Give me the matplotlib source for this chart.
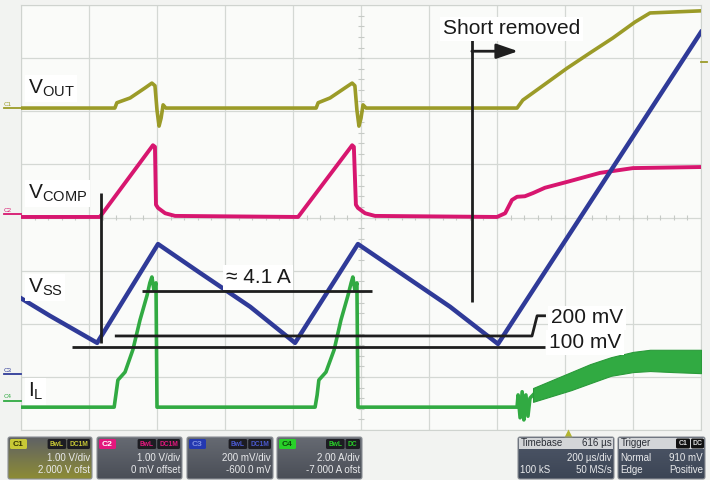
import numpy as np
import matplotlib
matplotlib.use("Agg")
import matplotlib.pyplot as plt
from matplotlib.patches import FancyBboxPatch, Rectangle

plt.rcParams['font.family'] = ['Liberation Sans', 'DejaVu Sans']
plt.rcParams['mathtext.fontset'] = 'custom'
plt.rcParams['mathtext.rm'] = 'Liberation Sans'
plt.rcParams['mathtext.it'] = 'Liberation Sans:italic'
plt.rcParams['mathtext.bf'] = 'Liberation Sans:bold'

# ---- scope traces: time in us, value in screen divisions (0 = bottom, 8 = top) ----
t_vout = [0, 276, 282, 321, 365, 385, 394, 400, 406, 412, 418, 426,
          868, 874, 909, 953, 974, 982, 988, 994, 1000, 1006, 1015,
          1459, 1476, 1526, 1606, 1674, 1741, 1806, 1850, 2000]
v_vout = [6.06, 6.06, 6.16, 6.25, 6.44, 6.53, 6.48, 6.02, 5.72, 5.87, 6.12, 6.06,
          6.06, 6.16, 6.25, 6.44, 6.53, 6.48, 6.02, 5.72, 5.87, 6.12, 6.06,
          6.06, 6.21, 6.44, 6.81, 7.10, 7.38, 7.68, 7.85, 7.89]

t_vcomp = [0, 232, 388, 394, 397, 403, 424, 453,
           815, 974, 979, 985, 991, 1012, 1041,
           1400, 1424, 1444, 1459, 1482, 1506, 1541, 1606, 1703, 1800, 2000]
v_vcomp = [4.01, 4.01, 5.36, 5.33, 4.24, 4.18, 4.08, 4.03,
           4.01, 5.36, 5.33, 4.24, 4.18, 4.08, 4.03,
           4.01, 4.08, 4.33, 4.39, 4.40, 4.46, 4.56, 4.67, 4.84, 4.93, 4.95]

t_vss = [0, 85, 224, 403, 526, 674, 806, 991, 1115, 1262, 1403, 2000]
v_vss = [2.48, 2.15, 1.64, 3.50, 2.96, 2.32, 1.64, 3.50, 2.96, 2.32, 1.62, 7.49]

t_il = [0, 274, 279, 285, 306, 329, 350, 371, 379, 385, 391, 397, 400,
        865, 871, 876, 897, 921, 941, 962, 971, 976, 982, 988, 991,
        1459, 1462, 1468, 1474, 1479, 1485, 1491, 1497, 1506]
v_il = [0.43, 0.43, 0.66, 0.94, 1.09, 1.51, 2.07, 2.54, 2.77, 2.88, 2.64, 2.77, 0.43,
        0.43, 0.66, 0.94, 1.09, 1.51, 2.07, 2.54, 2.77, 2.88, 2.64, 2.77, 0.43,
        0.43, 0.66, 0.23, 0.72, 0.19, 0.66, 0.26, 0.60, 0.66]
# inductor current ripple band after the short is removed
t_band = [1506, 1562, 1618, 1674, 1735, 1800, 1850, 1918, 2000]
il_hi = [0.79, 0.94, 1.09, 1.24, 1.37, 1.47, 1.51, 1.51, 1.51]
il_lo = [0.53, 0.64, 0.75, 0.88, 1.02, 1.09, 1.11, 1.09, 1.07]

# ---- annotation geometry (same units) ----
mark_t, mark_y = [235, 235], [4.46, 1.64]
amp_t, amp_y = [356, 1032], [2.62, 2.62]
mv200_t, mv200_y = [276, 1503, 1518, 1544], [1.77, 1.77, 2.15, 2.15]
mv100_t, mv100_y = [150, 1541], [1.56, 1.56]
short_t, short_y = [1326, 1326], [7.34, 2.41]
arrow_from, arrow_to, arrow_y = 1326, 1462, 7.13

c_out = '#9b9b28'
c_comp = '#d7166f'
c_ss = '#2f3a98'
c_il = '#31aa42'

fig = plt.figure(figsize=(7.1, 4.8), dpi=100)
fig.patch.set_facecolor('#f2f3f1')
ax = fig.add_axes([21 / 710, 50 / 480, 680 / 710, 425 / 480])
ax.set_facecolor('#fafbf9')
ax.set_xlim(0, 2000)
ax.set_ylim(0, 8)
ax.set_xticks(np.arange(0, 2001, 200))
ax.set_yticks(np.arange(0, 9, 1))
ax.tick_params(length=0, labelbottom=False, labelleft=False)
ax.grid(color='#d4d8d4', lw=0.9)
for s in ax.spines.values():
    s.set_color('#cfd3cf')

# centre-line minor ticks
ax.vlines(np.arange(0, 2000, 40), 3.95, 4.05, color='#c6cac6', lw=0.8)
ax.hlines(np.arange(0, 8, 0.2), 990, 1010, color='#c6cac6', lw=0.8)

ax.plot(t_vout, v_vout, color=c_out, lw=2.6, solid_joinstyle='round', zorder=3)
ax.plot(t_vcomp, v_vcomp, color=c_comp, lw=2.8, solid_joinstyle='round', zorder=3)
ax.plot(t_il, v_il, color=c_il, lw=2.6, solid_joinstyle='round', zorder=3)
ax.fill_between(t_band, il_lo, il_hi, color=c_il, lw=0.8, edgecolor='#2a9a3a', zorder=3)
ax.plot(t_vss, v_vss, color=c_ss, lw=3.2, solid_joinstyle='round', zorder=4)

# annotations
ln = dict(color='#1e1e1e', lw=2.0, zorder=6, solid_capstyle='butt')
ax.plot(mark_t, mark_y, **ln)
ax.plot(amp_t, amp_y, **ln)
ax.plot(mv200_t, mv200_y, **ln)
ax.plot(mv100_t, mv100_y, **ln)
ax.plot(short_t, short_y, **ln)
ax.annotate('', xy=(arrow_to, arrow_y), xytext=(arrow_from, arrow_y),
            arrowprops=dict(arrowstyle='-|>,head_length=1.3,head_width=0.45',
                            color='#1e1e1e', lw=2.0, shrinkA=0, shrinkB=0), zorder=6)

box = dict(facecolor='white', edgecolor='none', pad=2)
txt = dict(fontsize=15, color='#1a1a1a', va='baseline', zorder=7, bbox=box)
ax.text(603, 2.77, '\u2248 4.1 A', **txt)
ax.text(1559, 2.01, '200 mV', **txt)
ax.text(1553, 1.54, '100 mV', **txt)
ax.text(1241, 7.45, 'Short removed', **txt)
ax.text(20, 6.33, r'V$_{\mathrm{OUT}}$', **txt)
ax.text(20, 4.35, r'V$_{\mathrm{COMP}}$', **txt)
ax.text(20, 2.58, r'V$_{\mathrm{SS}}$', **txt)
ax.text(20, 0.62, r'I$_{\mathrm{L}}$', **txt)

# ---- overlay in pixel units for scope UI decorations ----
ui = fig.add_axes([0, 0, 1, 1], zorder=5)
ui.set_xlim(0, 710)
ui.set_ylim(480, 0)
ui.axis('off')
ui.set_autoscale_on(False)

# channel markers on the left, trigger level on the right
for lab, y, c in [('C1', 108, c_out), ('C2', 214, c_comp), ('C3', 374, c_ss), ('C4', 401, c_il)]:
    ui.text(4, y - 1.5, lab, fontsize=4.5, color=c, va='bottom', ha='left')
    ui.plot([4, 21], [y, y], color=c, lw=1.3)
ui.plot([701, 707], [62, 62], color=c_out, lw=1.3)
ui.plot([568], [432.5], marker='^', ms=6, color='#b3b530', mec='none')


def panel(x0, x1, top_col, bot_col):
    y0, y1 = 437, 479
    p = FancyBboxPatch((x0, y0), x1 - x0, y1 - y0,
                       boxstyle='round,pad=0,rounding_size=2',
                       fc='none', ec='#8c9096', lw=0.8, zorder=2)
    ui.add_patch(p)
    a = np.array(matplotlib.colors.to_rgb(top_col))
    b = np.array(matplotlib.colors.to_rgb(bot_col))
    f = np.linspace(0, 1, 40)[:, None, None]
    grad = a * (1 - f) + b * f
    im = ui.imshow(np.repeat(grad, 2, axis=1), extent=(x0, x1, y1, y0),
                   aspect='auto', zorder=1, interpolation='bilinear')
    im.set_clip_path(p)


def tag(x0, x1, y0, label, fc, tc, fs=5.5):
    ui.add_patch(FancyBboxPatch((x0, y0), x1 - x0, 10,
                                boxstyle='round,pad=0,rounding_size=1.5',
                                fc=fc, ec='none', zorder=3))
    ui.text((x0 + x1) / 2, y0 + 5.3, label, fontsize=fs, color=tc,
            ha='center', va='center', zorder=4, fontweight='bold')


row = dict(fontsize=7, color='#e9eaec', va='center', zorder=4)
chans = [
    (8, 92, 'C1', '#c9c936', '#333300', ['BwL', 'DC1M'], '#c9c936',
     '1.00 V/div', '2.000 V ofst', '#5f6165', '#8d8c35'),
    (97, 182, 'C2', '#e3187d', '#ffffff', ['BwL', 'DC1M'], '#e3187d',
     '1.00 V/div', '0 mV offset', '#666a72', '#4a4e57'),
    (187, 273, 'C3', '#2438b0', '#8090e0', ['BwL', 'DC1M'], '#4a5ad0',
     '200 mV/div', '-600.0 mV', '#666a72', '#4a4e57'),
    (277, 362, 'C4', '#29d029', '#0a4a0a', ['BwL', 'DC'], '#29d029',
     '2.00 A/div', '-7.000 A ofst', '#666a72', '#4a4e57'),
]
for x0, x1, lab, fc, tc, flags, flc, r1, r2, top, bot in chans:
    panel(x0, x1, top, bot)
    tag(x0 + 2, x0 + 19, 439, lab, fc, tc, fs=6)
    xe = x1 - 2
    for fl in flags[::-1]:
        w = 6 + 4.2 * len(fl)
        tag(xe - w, xe, 439, fl, '#1c1c22', flc, fs=4.8)
        xe -= w + 1
    ui.text(x1 - 2, 458, r1, ha='right', **row)
    ui.text(x1 - 2, 470, r2, ha='right', **row)

# timebase and trigger panels
for x0, x1, head, head_r, l1, r1, l2, r2 in [
        (518, 614, 'Timebase', '616 \u00b5s', '', '200 \u00b5s/div', '100 kS', '50 MS/s'),
        (618, 705, 'Trigger', None, 'Normal', '910 mV', 'Edge', 'Positive')]:
    panel(x0, x1, '#4e5768', '#3c4555')
    ui.add_patch(Rectangle((x0 + 1, 438), x1 - x0 - 2, 11, fc='#d3d5d8', ec='none', zorder=3))
    ui.text(x0 + 3, 443.5, head, fontsize=7, color='#2a2e36', va='center', zorder=4)
    if head_r:
        ui.text(x1 - 2, 443.5, head_r, fontsize=7, color='#2a2e36', va='center', ha='right', zorder=4)
    else:
        tag(x1 - 29, x1 - 15, 438.5, 'C1', '#111111', '#e0e0e0', fs=5)
        tag(x1 - 14, x1 - 1, 438.5, 'DC', '#111111', '#e0e0e0', fs=5)
    if l1:
        ui.text(x0 + 2, 458, l1, ha='left', **row)
    ui.text(x1 - 2, 458, r1, ha='right', **row)
    ui.text(x0 + 2, 470, l2, ha='left', **row)
    ui.text(x1 - 2, 470, r2, ha='right', **row)

fig.savefig('out.png', dpi=100, facecolor=fig.get_facecolor())
